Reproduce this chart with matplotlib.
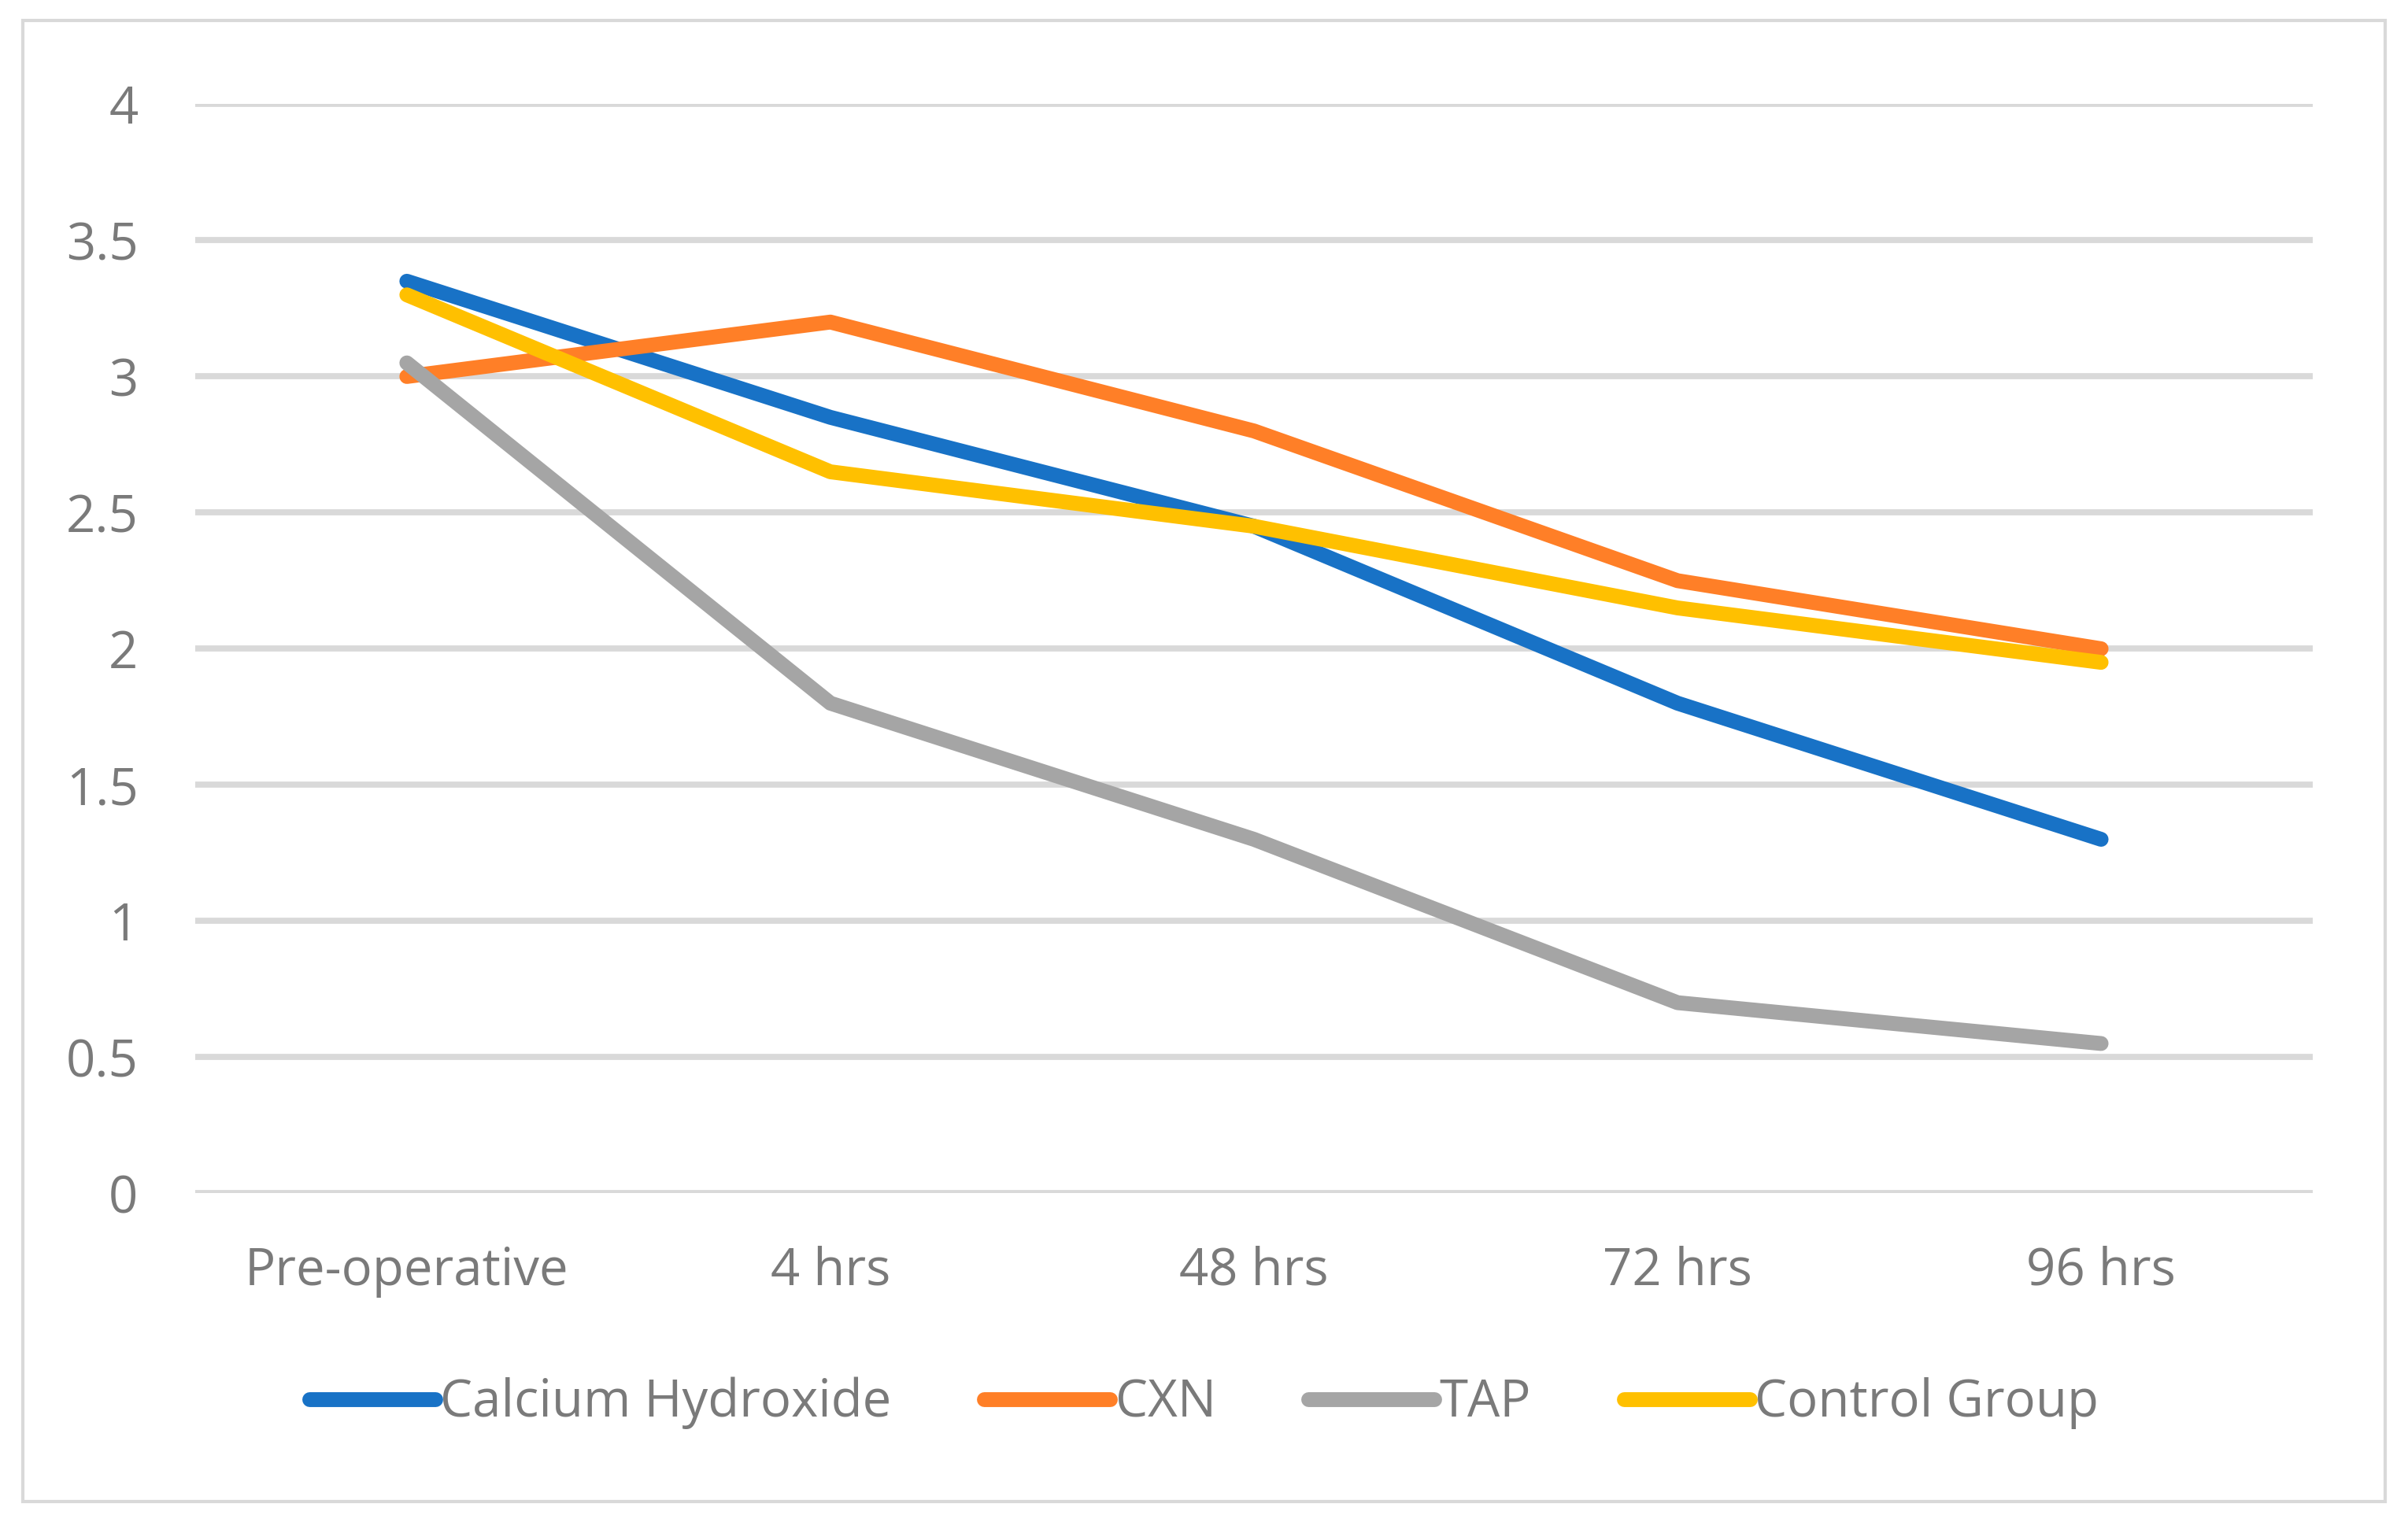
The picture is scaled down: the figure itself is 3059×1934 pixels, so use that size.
import matplotlib
matplotlib.use("Agg")
import matplotlib.pyplot as plt
from matplotlib.patches import Rectangle

categories = ["Pre-operative", "4 hrs", "48 hrs", "72 hrs", "96 hrs"]
calcium_hydroxide = [3.35, 2.85, 2.45, 1.80, 1.30]
cxn = [3.00, 3.20, 2.80, 2.25, 2.00]
tap = [3.05, 1.80, 1.30, 0.70, 0.55]
control_group = [3.30, 2.65, 2.45, 2.15, 1.95]
series_names = ["Calcium Hydroxide", "CXN", "TAP", "Control Group"]
colors = ["#1872C6", "#FF7F27", "#A5A5A5", "#FFC000"]
yticks = [0, 0.5, 1, 1.5, 2, 2.5, 3, 3.5, 4]

plt.rcParams['font.family'] = ['Open Sans', 'DejaVu Sans']
TXT = '#7A7A7A'
FS = 23.5

W, H, DPI = 3059, 1934, 200
fig = plt.figure(figsize=(W / DPI, H / DPI), dpi=DPI)
ax = fig.add_axes([0.081, 0.216, 0.8795, 0.7155])

x = list(range(len(categories)))
for name, vals, c in zip(series_names, [calcium_hydroxide, cxn, tap, control_group], colors):
    ax.plot(x, vals, color=c, lw=6.8, solid_capstyle='round', solid_joinstyle='round',
            label=name, zorder=3)

ax.set_xlim(-0.5, len(categories) - 0.5)
ax.set_ylim(0, 4)
ax.set_yticks(yticks)
ax.set_yticklabels([f"{t:g}" for t in yticks])
ax.set_xticks(x)
ax.set_xticklabels(categories)
ax.grid(axis='y', color='#D9D9D9', lw=2.8, zorder=0)
ax.set_axisbelow(True)
for s in ax.spines.values():
    s.set_visible(False)
ax.tick_params(axis='both', length=0, colors=TXT, labelsize=FS)
ax.tick_params(axis='y', pad=26)
ax.tick_params(axis='x', pad=24)

leg = fig.legend(loc='center', bbox_to_anchor=(0.5, 0.078), ncol=4, frameon=False,
                 fontsize=FS, handlelength=2.45, handletextpad=0.1, columnspacing=1.8)
for t in leg.get_texts():
    t.set_color(TXT)

fig.patches.append(Rectangle((0.0095, 0.0135), 0.981, 0.973, transform=fig.transFigure,
                             fill=False, edgecolor='#D9D9D9', lw=1.5))

fig.savefig("out.png", dpi=DPI, facecolor='white')
